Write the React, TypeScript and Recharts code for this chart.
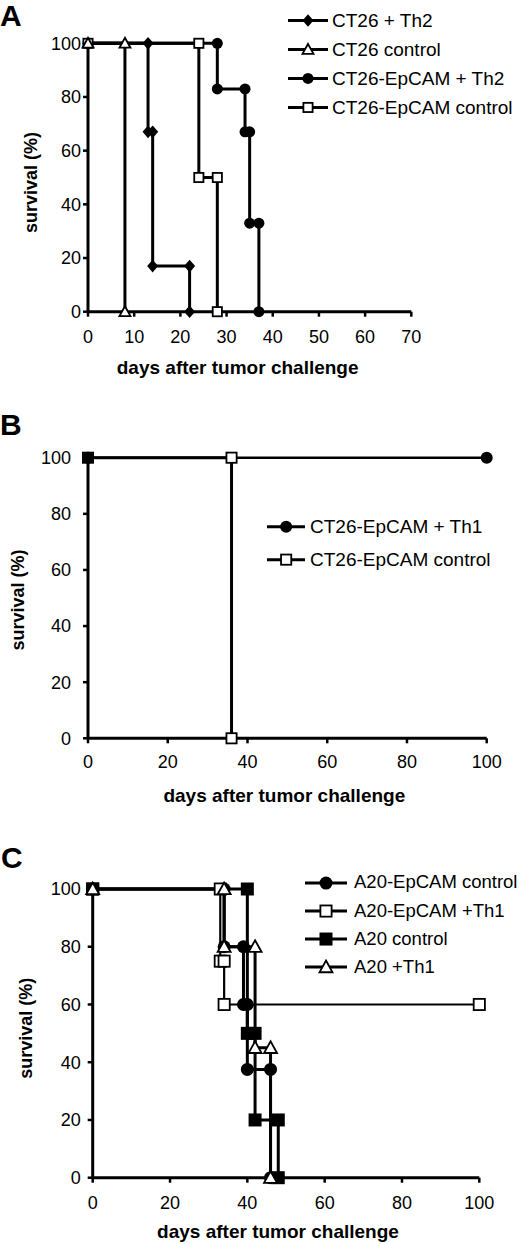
import React from 'react';
import { LineChart, Line, XAxis, YAxis, Legend } from 'recharts';

const FONT = '"Liberation Sans", Arial, sans-serif';

// Panel A – CT26 / CT26-EpCAM with Th2 cells
const ct26Th2Days = [0, 13, 13, 14, 14, 22, 22];
const ct26Th2Survival = [100, 100, 67, 67, 17, 17, 0];
const ct26ControlDays = [0, 8, 8];
const ct26ControlSurvival = [100, 100, 0];
const epcamTh2Days = [0, 28, 28, 34, 34, 35, 35, 37, 37];
const epcamTh2Survival = [100, 100, 83, 83, 67, 67, 33, 33, 0];
const epcamControlADays = [0, 24, 24, 28, 28];
const epcamControlASurvival = [100, 100, 50, 50, 0];

// Panel B – CT26-EpCAM with Th1 cells
const epcamTh1Days = [0, 100];
const epcamTh1Survival = [100, 100];
const epcamControlBDays = [0, 36, 36];
const epcamControlBSurvival = [100, 100, 0];

// Panel C – A20 / A20-EpCAM with Th1 cells
const a20EpcamControlDays = [0, 34, 34, 39, 39, 40, 40, 46, 46];
const a20EpcamControlSurvival = [100, 100, 80, 80, 60, 60, 37.5, 37.5, 0];
const a20EpcamTh1Days = [0, 33, 33, 34, 34, 100];
const a20EpcamTh1Survival = [100, 100, 75, 75, 60, 60];
const a20ControlDays = [0, 40, 40, 42, 42, 48, 48];
const a20ControlSurvival = [100, 100, 50, 50, 20, 20, 0];
const a20Th1Days = [0, 34, 34, 42, 42, 46, 46];
const a20Th1Survival = [100, 100, 80, 80, 45, 45, 0];

const ticksA = [0, 10, 20, 30, 40, 50, 60, 70];
const ticks100 = [0, 20, 40, 60, 80, 100];
const survivalTicks = [0, 20, 40, 60, 80, 100];

type Shape = 'diamond' | 'triangle' | 'circle' | 'square' | 'filledSquare';

interface Series {
  name: string;
  days: number[];
  survival: number[];
  shape: Shape;
  strokeWidth?: number;
}

const toPoints = (days: number[], survival: number[]) =>
  days.map((day, i) => ({ day, survival: survival[i] }));

function Marker({ shape, cx, cy, size }: { shape: Shape; cx: number; cy: number; size: number }) {
  const r = size / 2;
  switch (shape) {
    case 'diamond':
      return (
        <polygon
          points={`${cx},${cy - r * 1.15} ${cx + r},${cy} ${cx},${cy + r * 1.15} ${cx - r},${cy}`}
          fill="#000"
        />
      );
    case 'triangle':
      return (
        <polygon
          points={`${cx},${cy - r} ${cx + r},${cy + r * 0.8} ${cx - r},${cy + r * 0.8}`}
          fill="#fff"
          stroke="#000"
          strokeWidth={1.8}
        />
      );
    case 'circle':
      return <circle cx={cx} cy={cy} r={r} fill="#000" />;
    case 'square':
      return (
        <rect x={cx - r + 0.9} y={cy - r + 0.9} width={size - 1.8} height={size - 1.8} fill="#fff" stroke="#000" strokeWidth={1.8} />
      );
    default:
      return <rect x={cx - r} y={cy - r} width={size} height={size} fill="#000" />;
  }
}

const renderDot = (shape: Shape, size: number) => (props: any) => (
  <Marker key={`dot-${props.index}`} shape={shape} cx={props.cx} cy={props.cy} size={size} />
);

function XTitle({ viewBox, value, dx, dy }: any) {
  return (
    <text
      x={viewBox.x + viewBox.width / 2 + dx}
      y={viewBox.y + dy}
      textAnchor="middle"
      fontFamily={FONT}
      fontSize={19}
      fontWeight="bold"
      fill="#000"
    >
      {value}
    </text>
  );
}

function YTitle({ viewBox, value, bx, dy }: any) {
  const cy = viewBox.y + viewBox.height / 2 + dy;
  return (
    <text
      transform={`translate(${viewBox.x + bx}, ${cy}) rotate(-90)`}
      textAnchor="middle"
      fontFamily={FONT}
      fontSize={18}
      fontWeight="bold"
      fill="#000"
    >
      {value}
    </text>
  );
}

interface LegendCfg {
  left: number;
  top: number;
  rowHeight: number;
  lineLength: number;
  gap: number;
  fontSize: number;
}

function LegendBox({ series, cfg, size }: { series: Series[]; cfg: LegendCfg; size: number }) {
  return (
    <div>
      {series.map((s) => (
        <div key={s.name} style={{ display: 'flex', alignItems: 'center', height: cfg.rowHeight }}>
          <svg width={cfg.lineLength} height={cfg.rowHeight} style={{ display: 'block' }}>
            <line x1={0} x2={cfg.lineLength} y1={cfg.rowHeight / 2} y2={cfg.rowHeight / 2} stroke="#000" strokeWidth={3} />
            <Marker shape={s.shape} cx={cfg.lineLength / 2} cy={cfg.rowHeight / 2} size={size} />
          </svg>
          <span
            style={{
              marginLeft: cfg.gap,
              fontFamily: FONT,
              fontSize: cfg.fontSize,
              lineHeight: 1,
              color: '#000',
              whiteSpace: 'nowrap',
            }}
          >
            {s.name}
          </span>
        </div>
      ))}
    </div>
  );
}

interface PanelProps {
  top: number;
  height: number;
  margin: { top: number; right: number; bottom: number; left: number };
  yWidth: number;
  xHeight: number;
  xMax: number;
  xTicks: number[];
  xTickMargin: number;
  yTickMargin: number;
  xTitle: { dx: number; dy: number };
  yTitle: { bx: number; dy: number };
  series: Series[];
  drawOrder: number[];
  markerSize: number;
  legend: LegendCfg;
}

function SurvivalPanel(p: PanelProps) {
  const tickStyle = { fontFamily: FONT, fontSize: 18, fill: '#000' };
  return (
    <div style={{ position: 'absolute', left: 0, top: p.top, width: 520, height: p.height }}>
      <LineChart width={520} height={p.height} margin={p.margin}>
        <XAxis
          type="number"
          dataKey="day"
          domain={[0, p.xMax]}
          ticks={p.xTicks}
          interval={0}
          allowDuplicatedCategory={false}
          height={p.xHeight}
          axisLine={{ stroke: '#000', strokeWidth: 3 }}
          tickLine={{ stroke: '#000', strokeWidth: 2.5 }}
          tickSize={5}
          tickMargin={p.xTickMargin}
          tick={tickStyle}
          label={<XTitle value="days after tumor challenge" dx={p.xTitle.dx} dy={p.xTitle.dy} />}
        />
        <YAxis
          type="number"
          domain={[0, 100]}
          ticks={survivalTicks}
          interval={0}
          width={p.yWidth}
          axisLine={{ stroke: '#000', strokeWidth: 3 }}
          tickLine={{ stroke: '#000', strokeWidth: 2.5 }}
          tickSize={5}
          tickMargin={p.yTickMargin}
          tick={tickStyle}
          label={<YTitle value="survival (%)" bx={p.yTitle.bx} dy={p.yTitle.dy} />}
        />
        <Legend
          layout="horizontal"
          verticalAlign="middle"
          align="center"
          wrapperStyle={{ left: p.legend.left, top: p.legend.top, width: 'auto' }}
          content={() => <LegendBox series={p.series} cfg={p.legend} size={p.markerSize} />}
        />
        {p.drawOrder.map((i) => {
          const s = p.series[i];
          return (
            <Line
              key={s.name}
              name={s.name}
              data={toPoints(s.days, s.survival)}
              dataKey="survival"
              type="linear"
              stroke="#000"
              strokeWidth={s.strokeWidth ?? 3}
              dot={renderDot(s.shape, p.markerSize)}
              activeDot={false}
              isAnimationActive={false}
            />
          );
        })}
      </LineChart>
    </div>
  );
}

const seriesA: Series[] = [
  { name: 'CT26 + Th2', days: ct26Th2Days, survival: ct26Th2Survival, shape: 'diamond' },
  { name: 'CT26 control', days: ct26ControlDays, survival: ct26ControlSurvival, shape: 'triangle' },
  { name: 'CT26-EpCAM + Th2', days: epcamTh2Days, survival: epcamTh2Survival, shape: 'circle' },
  { name: 'CT26-EpCAM control', days: epcamControlADays, survival: epcamControlASurvival, shape: 'square' },
];

const seriesB: Series[] = [
  { name: 'CT26-EpCAM + Th1', days: epcamTh1Days, survival: epcamTh1Survival, shape: 'circle', strokeWidth: 2.6 },
  { name: 'CT26-EpCAM control', days: epcamControlBDays, survival: epcamControlBSurvival, shape: 'square' },
];

const seriesC: Series[] = [
  { name: 'A20-EpCAM control', days: a20EpcamControlDays, survival: a20EpcamControlSurvival, shape: 'circle' },
  { name: 'A20-EpCAM +Th1', days: a20EpcamTh1Days, survival: a20EpcamTh1Survival, shape: 'square', strokeWidth: 2.2 },
  { name: 'A20 control', days: a20ControlDays, survival: a20ControlSurvival, shape: 'filledSquare' },
  { name: 'A20 +Th1', days: a20Th1Days, survival: a20Th1Survival, shape: 'triangle' },
];

export default function App() {
  const letter = { fontFamily: FONT, fontSize: 30, fontWeight: 'bold' as const, fill: '#000' };
  return (
    <div style={{ position: 'absolute', left: 0, top: 0, width: 520, height: 1244, background: '#fff', overflow: 'hidden' }}>
      <SurvivalPanel
        top={0}
        height={390}
        margin={{ top: 43.3, right: 108.7, bottom: 0, left: 0 }}
        yWidth={88}
        xHeight={78.3}
        xMax={70}
        xTicks={ticksA}
        xTickMargin={14}
        yTickMargin={2}
        xTitle={{ dx: -12, dy: 62 }}
        yTitle={{ bx: 36.5, dy: 5 }}
        series={seriesA}
        drawOrder={[0, 2, 3, 1]}
        markerSize={11}
        legend={{ left: 288, top: 6.2, rowHeight: 28.9, lineLength: 40, gap: 4, fontSize: 19 }}
      />
      <SurvivalPanel
        top={400}
        height={420}
        margin={{ top: 57.7, right: 33.3, bottom: 0, left: 0 }}
        yWidth={88}
        xHeight={81.7}
        xMax={100}
        xTicks={ticks100}
        xTickMargin={12}
        yTickMargin={12}
        xTitle={{ dx: -3, dy: 63.7 }}
        yTitle={{ bx: 24, dy: 2 }}
        series={seriesB}
        drawOrder={[1, 0]}
        markerSize={12}
        legend={{ left: 266.7, top: 110, rowHeight: 33.3, lineLength: 38.3, gap: 5, fontSize: 19 }}
      />
      <SurvivalPanel
        top={840}
        height={404}
        margin={{ top: 49, right: 40.7, bottom: 0, left: 0 }}
        yWidth={92.7}
        xHeight={66.3}
        xMax={100}
        xTicks={ticks100}
        xTickMargin={14}
        yTickMargin={7}
        xTitle={{ dx: -8, dy: 60 }}
        yTitle={{ bx: 31.5, dy: -5 }}
        series={seriesC}
        drawOrder={[0, 1, 2, 3]}
        markerSize={13}
        legend={{ left: 305, top: 28.7, rowHeight: 28.1, lineLength: 42, gap: 7, fontSize: 18.5 }}
      />
      <svg width={520} height={1244} style={{ position: 'absolute', left: 0, top: 0, pointerEvents: 'none' }}>
        <text x={0} y={26} {...letter}>A</text>
        <text x={0} y={435} {...letter}>B</text>
        <text x={1} y={868} {...letter}>C</text>
      </svg>
    </div>
  );
}
